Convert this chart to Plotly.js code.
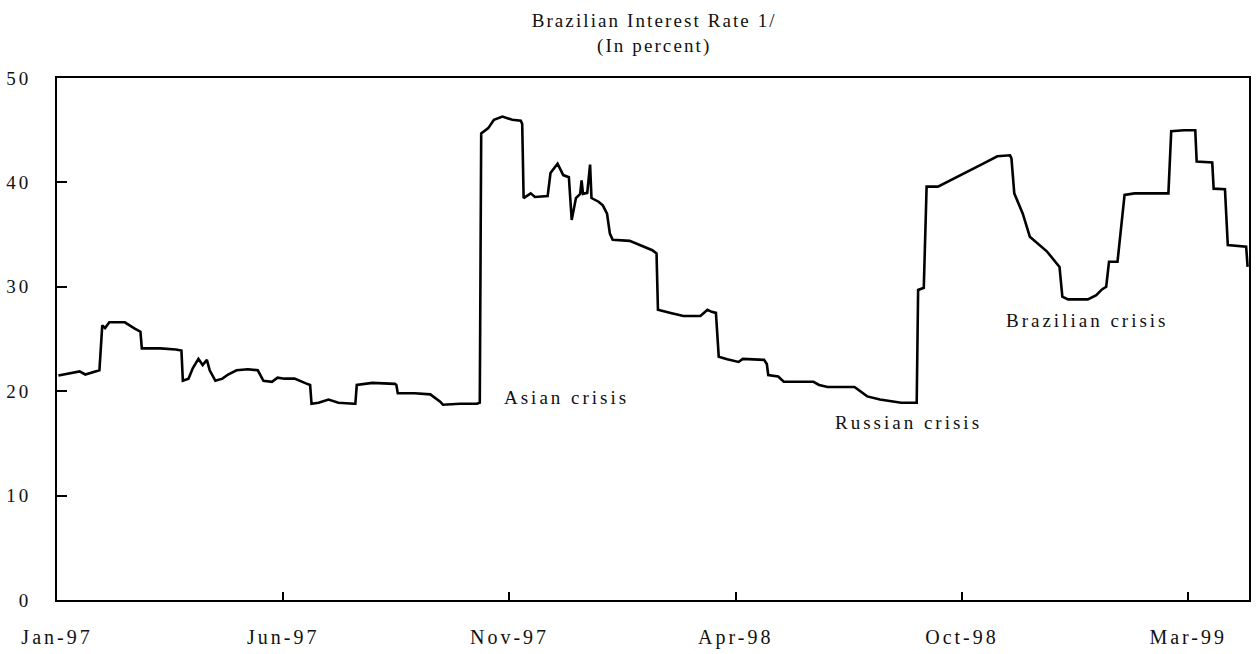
<!DOCTYPE html>
<html>
<head>
<meta charset="utf-8">
<script src="https://cdn.plot.ly/plotly-3.0.1.min.js"></script>
<style>
html,body{margin:0;padding:0;background:#fff;}
#chart{width:1258px;height:654px;}
.xtick text{letter-spacing:3px;}
.ytick text{letter-spacing:3px;}
.gtitle{letter-spacing:2.1px;}
.annotation-text{letter-spacing:3px;}
</style>
</head>
<body>
<div id="chart"></div>
<script>
// Daily Brazilian interest rate (percent)
const dates = [
  '1997-01-02','1997-01-09','1997-01-17','1997-01-21','1997-01-30','1997-01-31',
  '1997-02-02','1997-02-04','1997-02-07','1997-02-18','1997-02-25','1997-03-01',
  '1997-03-02','1997-03-15','1997-03-26','1997-03-30','1997-03-31','1997-04-04',
  '1997-04-07','1997-04-11','1997-04-14','1997-04-17','1997-04-19','1997-04-23',
  '1997-04-28','1997-05-02','1997-05-08','1997-05-16','1997-05-23','1997-05-27',
  '1997-06-02','1997-06-06','1997-06-11','1997-06-18','1997-06-26','1997-06-29',
  '1997-06-30','1997-07-05','1997-07-12','1997-07-19','1997-07-30','1997-07-31',
  '1997-08-01','1997-08-12','1997-08-28','1997-08-29','1997-08-30','1997-09-11',
  '1997-09-22','1997-09-29','1997-10-01','1997-10-13','1997-10-25','1997-10-27',
  '1997-10-28','1997-11-02','1997-11-06','1997-11-12','1997-11-19','1997-11-25',
  '1997-11-26','1997-11-27','1997-12-02','1997-12-05','1997-12-14','1997-12-16',
  '1997-12-21','1997-12-25','1997-12-29','1997-12-31','1998-01-03','1998-01-06',
  '1998-01-07','1998-01-08','1998-01-11','1998-01-13','1998-01-14','1998-01-19',
  '1998-01-22','1998-01-25','1998-01-27','1998-01-29','1998-02-10','1998-02-17',
  '1998-02-26','1998-03-01','1998-03-02','1998-03-11','1998-03-20','1998-04-01',
  '1998-04-06','1998-04-09','1998-04-12','1998-04-14','1998-04-20','1998-04-28',
  '1998-05-01','1998-05-16','1998-05-18','1998-05-19','1998-05-26','1998-05-30',
  '1998-06-20','1998-06-24','1998-06-30','1998-07-19','1998-07-28','1998-08-06',
  '1998-08-21','1998-09-01','1998-09-02','1998-09-06','1998-09-08','1998-09-16',
  '1998-09-25','1998-10-07','1998-10-18','1998-10-28','1998-11-06','1998-11-07',
  '1998-11-09','1998-11-15','1998-11-20','1998-12-02','1998-12-09','1998-12-11',
  '1998-12-13','1998-12-17','1998-12-31','1999-01-06','1999-01-10','1999-01-13',
  '1999-01-15','1999-01-21','1999-01-26','1999-02-02','1999-02-26','1999-02-28',
  '1999-03-09','1999-03-17','1999-03-18','1999-03-29','1999-03-30','1999-04-07',
  '1999-04-09','1999-04-22','1999-04-23'
];
const rates = [
  21.5,21.7,21.9,21.6,22.0,22.0,
  26.3,26.05,26.6,26.6,26.0,25.7,
  24.1,24.1,24.0,23.9,21.0,21.2,
  22.2,23.1,22.5,23.0,22.0,21.0,
  21.2,21.6,22.0,22.1,22.0,21.0,
  20.9,21.3,21.2,21.2,20.75,20.6,
  18.8,18.9,19.2,18.9,18.8,18.8,
  20.6,20.8,20.7,20.6,19.8,19.8,
  19.7,19.0,18.7,18.8,18.8,18.9,
  44.7,45.2,46.0,46.3,46.0,45.9,
  45.6,38.5,38.95,38.6,38.7,40.9,
  41.8,40.7,40.5,36.4,38.5,38.9,
  40.2,38.9,39.0,41.7,38.5,38.15,
  37.8,37.0,35.1,34.5,34.4,34.0,
  33.5,33.2,27.8,27.5,27.2,27.2,
  27.8,27.6,27.5,23.3,23.05,22.8,
  23.1,23.0,22.6,21.55,21.4,20.9,
  20.9,20.6,20.4,20.4,19.5,19.2,
  18.9,18.9,29.7,29.9,39.6,39.6,
  40.2,41.0,41.8,42.5,42.6,42.3,
  38.95,37.0,34.8,33.4,32.25,31.9,
  29.05,28.8,28.8,29.2,29.75,30.0,
  32.4,32.4,38.8,38.95,38.95,44.9,
  45.0,45.0,42.0,41.9,39.4,39.35,
  34.0,33.85,31.9
];

// Axis ticks (evenly spaced in the source chart)
const xTickVals = ['1997-01-01','1997-06-10','1997-11-17','1998-04-26','1998-10-03','1999-03-12'];
const xTickText = ['Jan-97','Jun-97','Nov-97','Apr-98','Oct-98','Mar-99'];
const yTickVals = [0,10,20,30,40,50];

// Event labels
const eventText = ['Asian crisis','Russian crisis','Brazilian crisis'];
const eventX = ['1997-12-27','1998-08-26','1998-12-31'];
const eventY = [19.35,17.05,26.8];

const serif = 'Liberation Serif, Times New Roman, serif';

const trace = {
  x: dates, y: rates, type: 'scatter', mode: 'lines',
  line: {color: '#000', width: 2.6, shape: 'linear'},
  hoverinfo: 'x+y'
};

const layout = {
  width: 1258, height: 654,
  paper_bgcolor: '#fff', plot_bgcolor: '#fff',
  margin: {l: 57, r: 9, t: 78, b: 54},
  showlegend: false,
  title: {
    text: 'Brazilian Interest Rate 1/<br>(In percent)',
    x: 0.52, xanchor: 'center', yref: 'container', y: 0.959, yanchor: 'middle',
    font: {family: serif, size: 19, color: '#111'}
  },
  xaxis: {
    type: 'date',
    range: ['1997-01-01', '1999-04-24'],
    tickmode: 'array', tickvals: xTickVals, ticktext: xTickText,
    ticks: 'inside', ticklen: 8, tickwidth: 2, tickcolor: '#000',
    showline: true, linecolor: '#000', linewidth: 2, mirror: true,
    showgrid: false, zeroline: false,
    ticklabelstandoff: 18,
    tickfont: {family: serif, size: 20, color: '#111'}
  },
  yaxis: {
    range: [0, 50],
    tickmode: 'array', tickvals: yTickVals,
    ticks: 'inside', ticklen: 10, tickwidth: 2, tickcolor: '#000',
    showline: true, linecolor: '#000', linewidth: 2, mirror: true,
    showgrid: false, zeroline: false,
    ticklabelstandoff: 20,
    tickfont: {family: serif, size: 19, color: '#111'}
  },
  annotations: eventText.map((t, i) => ({
    x: eventX[i], y: eventY[i], xref: 'x', yref: 'y',
    text: t, showarrow: false, xanchor: 'center', yanchor: 'middle',
    font: {family: serif, size: 19, color: '#111'}
  }))
};

Plotly.newPlot('chart', [trace], layout, {displayModeBar: false, staticPlot: true});
</script>
</body>
</html>
